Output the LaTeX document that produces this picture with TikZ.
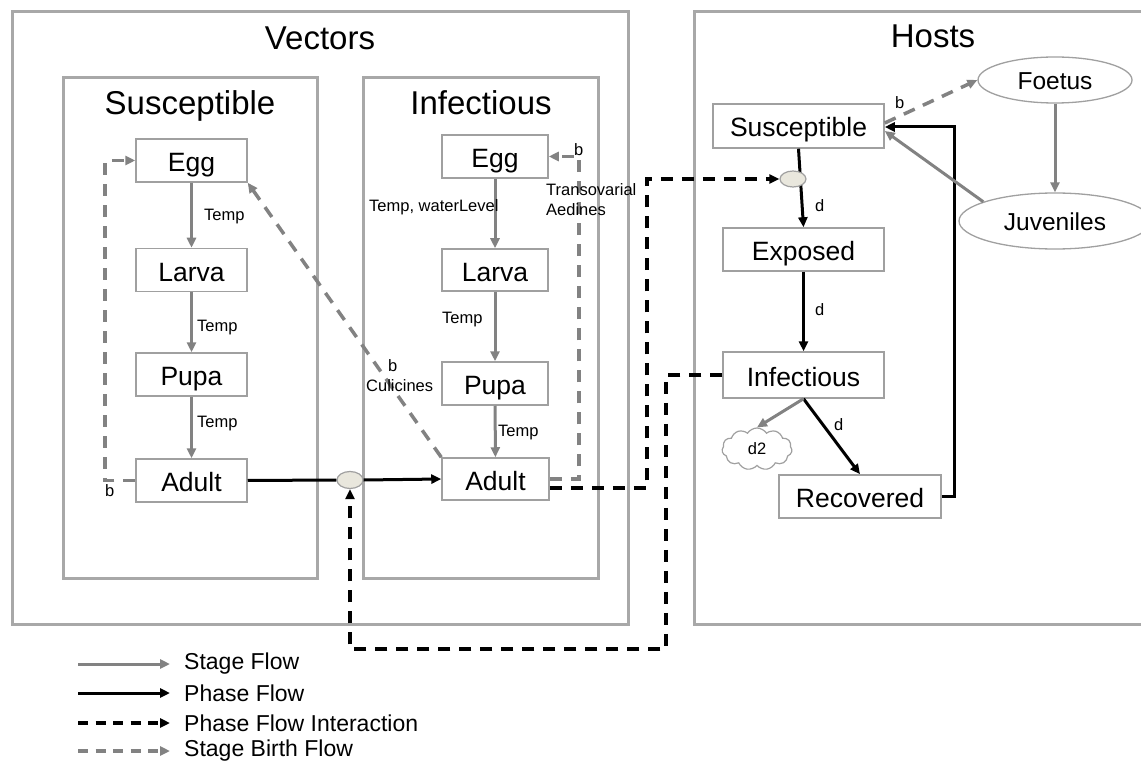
\documentclass[tikz,border=0pt]{standalone}
\usepackage{fontspec}
\setmainfont{Liberation Sans}
\usetikzlibrary{arrows.meta,shapes.geometric,shapes.symbols}
\definecolor{framegray}{HTML}{A8A8A8}
\definecolor{boxgray}{HTML}{A0A0A0}
\definecolor{flowgray}{HTML}{828282}
\definecolor{junction}{HTML}{E9E7DD}
\tikzset{
  frame/.style={draw=framegray, line width=3pt},
  heading/.style={anchor=base, inner sep=0pt, font=\fontsize{33}{38}\selectfont},
  stagebox/.style={draw=boxgray, line width=1.5pt, fill=white, inner sep=0pt,
    text height=22pt, text depth=0pt, font=\fontsize{26.5}{30}\selectfont},
  cohort/.style={ellipse, draw=boxgray, line width=1.3pt, fill=white, inner sep=0pt,
    text height=20pt, text depth=0pt, font=\fontsize{24.5}{28}\selectfont},
  junc/.style={ellipse, draw=boxgray, line width=1.2pt, fill=junction, inner sep=0pt,
    minimum width=26pt, minimum height=17pt},
  lbl/.style={anchor=west, inner sep=0pt, font=\fontsize{16.5}{19}\selectfont},
  legendtext/.style={anchor=west, inner sep=0pt, font=\fontsize{23}{27}\selectfont},
  tip/.style={-{Triangle[length=10pt,width=9pt]}},
  stageflow/.style={tip, draw=flowgray, line width=3pt},
  phaseflow/.style={draw=black, line width=3pt},
  phasearrow/.style={phaseflow, tip},
  interaction/.style={tip, draw=black, line width=4pt, dash pattern=on 12pt off 9pt},
  birthflow/.style={tip, draw=flowgray, line width=3.5pt, dash pattern=on 12pt off 9pt},
  legenddash/.style={dash pattern=on 10pt off 7.5pt},
}
\begin{document}
\begin{tikzpicture}[x=1pt,y=-1pt]
\useasboundingbox (0,0) rectangle (1141,762);

% compartments
\draw[frame] (12,12) rectangle (628,624);
\draw[frame] (63,78) rectangle (317,578);
\draw[frame] (363,78) rectangle (598,578);
\draw[frame] (694,12) rectangle (1160,624);

\node[heading] (tVec) at (320,50) {Vectors};
\node[heading] (tSus) at (190,115) {Susceptible};
\node[heading] (tInf) at (481,115) {Infectious};
\node[heading] (tHost) at (933,48) {Hosts};

% susceptible vector stages
\node[stagebox, minimum width=111pt, minimum height=43pt] (sE) at (191.5,160.5) {Egg};
\node[stagebox, minimum width=111pt, minimum height=43pt] (sL) at (191.5,270) {Larva};
\node[stagebox, minimum width=111pt, minimum height=43pt] (sP) at (191.5,374.5) {Pupa};
\node[stagebox, minimum width=111pt, minimum height=43pt] (sA) at (191.5,480.5) {Adult};

% infectious vector stages
\node[stagebox, minimum width=106pt, minimum height=43pt] (iE) at (495,156.5) {Egg};
\node[stagebox, minimum width=106pt, minimum height=42pt] (iL) at (495,270) {Larva};
\node[stagebox, minimum width=106pt, minimum height=43pt] (iP) at (495,383.5) {Pupa};
\node[stagebox, minimum width=107pt, minimum height=42pt] (iA) at (495.5,479) {Adult};

% host states
\node[stagebox, minimum width=171pt, minimum height=44pt] (hS) at (798.5,126) {Susceptible};
\node[stagebox, minimum width=161pt, minimum height=43pt] (hE) at (803.5,249.5) {Exposed};
\node[stagebox, minimum width=161pt, minimum height=46pt] (hI) at (803.5,375) {Infectious};
\node[stagebox, minimum width=162pt, minimum height=43pt] (hR) at (860,496.5) {Recovered};
\node[cohort, minimum width=154pt, minimum height=46pt] (foe) at (1055,80) {Foetus};
\node[cohort, minimum width=192pt, minimum height=56pt] (juv) at (1055,221) {Juveniles};
\node[cloud, cloud puffs=11, cloud puff arc=115, aspect=1.65, draw=boxgray, line width=1.2pt,
  minimum width=70pt, minimum height=42pt, inner sep=0pt,
  font=\fontsize{16.5}{19}\selectfont] (dead) at (757,449) {d2};

% stage flows in the vectors
\draw[stageflow] (sE) -- (sL);
\draw[stageflow] (sL) -- (sP);
\draw[stageflow] (sP) -- (sA);
\draw[stageflow] (iE) -- (iL);
\draw[stageflow] (iL) -- (iP);
\draw[stageflow] (iP) -- (iA);
\node[lbl] (l1) at (204,217) {Temp};
\node[lbl] (l2) at (197,328) {Temp};
\node[lbl] (l3) at (197,424) {Temp};
\node[lbl] (l4) at (369,207) {Temp, waterLevel};
\node[lbl] (l5) at (442,320) {Temp};
\node[lbl] (l6) at (498,433) {Temp};

% birth flows
\coordinate (cb1) at (105,160.5);
\draw[birthflow] (sA.west) -| (cb1) -- (sE.west);
\node[lbl] (lb1) at (105,491) {b};
\draw[birthflow] (iA.north west) -- (sE.south east);
\node[lbl] (lb2) at (388,366) {b};
\node[lbl] (lcul) at (366,386) {Culicines};
\coordinate (cb2) at (579,156.5);
\draw[birthflow] (iA.east) -| (cb2) -- (iE.east);
\node[lbl] (lb3) at (574,150) {b};
\node[lbl] (ltr) at (546,190) {Transovarial};
\node[lbl] (lae) at (546,210) {Aedines};

% infection of vectors
\node[junc] (vJ) at (350,480) {};
\draw[phaseflow] (sA.east) -- (vJ.west);
\draw[phasearrow] (vJ.east) -- (iA.west);

% host flows
\draw[phasearrow] (hS.south) -- (hE.north);
\node[junc, minimum height=16pt] (hJ) at (793,179) {};
\node[lbl] (ld1) at (815,206) {d};
\draw[phasearrow] (hE) -- (hI);
\node[lbl] (ld2) at (815,310) {d};
\draw[phasearrow] (hI.south) -- (hR.north);
\node[lbl] (ld3) at (834,425) {d};
\draw[stageflow] (hI.south) -- (dead.north);
\coordinate (cr) at (954,127);
\draw[phasearrow] (hR.east) -| (cr) -- (hS.east |- cr);
\draw[stageflow] (juv.165) -- ([yshift=-5pt]hS.east);
\draw[stageflow] (foe) -- (juv);
\draw[birthflow] ([yshift=3pt]hS.east) -- (foe.west);
\node[lbl] (lb4) at (895,103) {b};

% interactions between vectors and hosts
\coordinate (ci1) at (647,179);
\draw[interaction] ([yshift=-9pt]iA.east) -| (ci1) -- (hJ.west);
\coordinate (ci2) at (666,649);
\draw[interaction] (hI.west) -| (ci2) -| (vJ.south);

% legend
\coordinate (g1a) at (78,664);  \coordinate (g1b) at (170,664);
\coordinate (g2a) at (78,693);  \coordinate (g2b) at (170,693);
\coordinate (g3a) at (78,723);  \coordinate (g3b) at (170,723);
\coordinate (g4a) at (78,751);  \coordinate (g4b) at (170,751);
\draw[stageflow] (g1a) -- (g1b);
\draw[phasearrow] (g2a) -- (g2b);
\draw[interaction, line width=3.5pt, legenddash] (g3a) -- (g3b);
\draw[birthflow, legenddash] (g4a) -- (g4b);
\node[legendtext] (t1) at (184,664) {Stage Flow};
\node[legendtext] (t2) at (184,693) {Phase Flow};
\node[legendtext] (t3) at (184,723) {Phase Flow Interaction};
\node[legendtext] (t4) at (184,751) {Stage Birth Flow};
\end{tikzpicture}
\end{document}
